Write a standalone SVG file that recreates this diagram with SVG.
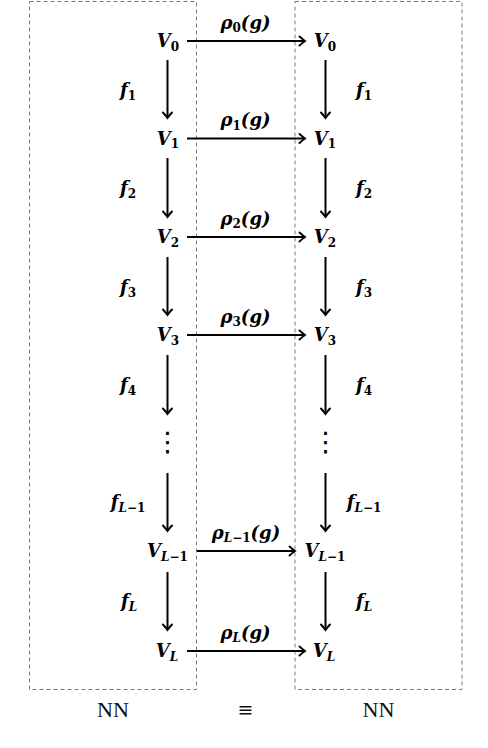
<svg xmlns="http://www.w3.org/2000/svg" width="488" height="748" viewBox="0 0 488 748">
<defs>
<style>
.box{fill:none;stroke:#7a7a7a;stroke-width:1;stroke-dasharray:4 3}
.arr{stroke:#000;stroke-width:2;fill:none;marker-end:url(#ah)}
.m{font-family:"DejaVu Serif","Liberation Serif",serif;font-weight:bold;font-style:italic;font-size:18px;fill:#000}
.v{text-anchor:middle}
.s{font-size:12px;font-style:normal}
.si{font-size:12px;font-style:italic}
.lbl{font-family:"Liberation Serif","Times New Roman",serif;font-size:21px;fill:#111;text-anchor:middle}
.eq{font-family:"DejaVu Sans",sans-serif;font-size:19px;fill:#111;text-anchor:middle}
.dots{font-family:"DejaVu Sans",sans-serif;font-size:27px;font-weight:normal;text-anchor:middle;fill:#000}
</style>
<marker id="ah" markerUnits="userSpaceOnUse" markerWidth="12" markerHeight="12" viewBox="-8 -6 10 12" refX="0" refY="0" orient="auto">
<path d="M-5.5,-4.5 Q-1.5,-1 0,0 Q-1.5,1 -5.5,4.5" fill="none" stroke="#000" stroke-width="1.9" stroke-linecap="round"/>
</marker>
</defs>

<g id="frames">
<rect class="box" x="29.5" y="1.5" width="167" height="688"/>
<rect class="box" x="295" y="1.5" width="167" height="688"/>
</g>

<g id="connectors">
<line class="arr" x1="187" y1="41" x2="305" y2="41"/>
<line class="arr" x1="187" y1="138.5" x2="305" y2="138.5"/>
<line class="arr" x1="187" y1="237" x2="305" y2="237"/>
<line class="arr" x1="187" y1="335" x2="305" y2="335"/>
<line class="arr" x1="197" y1="551" x2="295" y2="551"/>
<line class="arr" x1="187" y1="651" x2="305" y2="651"/>
<line class="arr" x1="167.5" y1="60" x2="167.5" y2="118"/>
<line class="arr" x1="167.5" y1="158" x2="167.5" y2="217"/>
<line class="arr" x1="167.5" y1="257" x2="167.5" y2="315"/>
<line class="arr" x1="167.5" y1="355" x2="167.5" y2="414"/>
<line class="arr" x1="167.5" y1="473" x2="167.5" y2="531"/>
<line class="arr" x1="167.5" y1="572" x2="167.5" y2="630"/>
<line class="arr" x1="325.5" y1="60" x2="325.5" y2="118"/>
<line class="arr" x1="325.5" y1="158" x2="325.5" y2="217"/>
<line class="arr" x1="325.5" y1="257" x2="325.5" y2="315"/>
<line class="arr" x1="325.5" y1="355" x2="325.5" y2="414"/>
<line class="arr" x1="325.5" y1="473" x2="325.5" y2="531"/>
<line class="arr" x1="325.5" y1="572" x2="325.5" y2="630"/>
</g>

<g id="edge-labels">
<text class="m v" x="245.5" y="28.5">ρ<tspan class="s" dy="3.5">0</tspan><tspan dy="-3.5">(g)</tspan></text>
<text class="m v" x="245.5" y="126">ρ<tspan class="s" dy="3.5">1</tspan><tspan dy="-3.5">(g)</tspan></text>
<text class="m v" x="245.5" y="224.5">ρ<tspan class="s" dy="3.5">2</tspan><tspan dy="-3.5">(g)</tspan></text>
<text class="m v" x="245.5" y="322.5">ρ<tspan class="s" dy="3.5">3</tspan><tspan dy="-3.5">(g)</tspan></text>
<text class="m v" x="246" y="538.5">ρ<tspan class="si" dy="3.5">L</tspan><tspan class="s">−1</tspan><tspan dy="-3.5">(g)</tspan></text>
<text class="m v" x="245.5" y="638.5">ρ<tspan class="si" dy="3.5">L</tspan><tspan dy="-3.5">(g)</tspan></text>

<text class="m v" x="128" y="96">f<tspan class="s" dy="3.5">1</tspan></text>
<text class="m v" x="128" y="194">f<tspan class="s" dy="3.5">2</tspan></text>
<text class="m v" x="128" y="293">f<tspan class="s" dy="3.5">3</tspan></text>
<text class="m v" x="128" y="391">f<tspan class="s" dy="3.5">4</tspan></text>
<text class="m v" x="128" y="508">f<tspan class="si" dy="3.5">L</tspan><tspan class="s">−1</tspan></text>
<text class="m v" x="129" y="607">f<tspan class="si" dy="3.5">L</tspan></text>

<text class="m v" x="364" y="96">f<tspan class="s" dy="3.5">1</tspan></text>
<text class="m v" x="364" y="194">f<tspan class="s" dy="3.5">2</tspan></text>
<text class="m v" x="364" y="293">f<tspan class="s" dy="3.5">3</tspan></text>
<text class="m v" x="364" y="391">f<tspan class="s" dy="3.5">4</tspan></text>
<text class="m v" x="364" y="508">f<tspan class="si" dy="3.5">L</tspan><tspan class="s">−1</tspan></text>
<text class="m v" x="364" y="607">f<tspan class="si" dy="3.5">L</tspan></text>
</g>

<g id="left-V0"><text class="m v" x="168" y="47">V<tspan class="s" dy="3.5">0</tspan></text></g>
<g id="left-V1"><text class="m v" x="168" y="144.5">V<tspan class="s" dy="3.5">1</tspan></text></g>
<g id="left-V2"><text class="m v" x="168" y="243">V<tspan class="s" dy="3.5">2</tspan></text></g>
<g id="left-V3"><text class="m v" x="168" y="341">V<tspan class="s" dy="3.5">3</tspan></text></g>
<g id="left-dots"><text class="dots" x="167.5" y="451">⋮</text></g>
<g id="left-VL1"><text class="m v" x="167.5" y="557">V<tspan class="si" dy="3.5">L</tspan><tspan class="s">−1</tspan></text></g>
<g id="left-VL"><text class="m v" x="167" y="657">V<tspan class="si" dy="3.5">L</tspan></text></g>

<g id="right-V0"><text class="m v" x="325" y="47">V<tspan class="s" dy="3.5">0</tspan></text></g>
<g id="right-V1"><text class="m v" x="325" y="144.5">V<tspan class="s" dy="3.5">1</tspan></text></g>
<g id="right-V2"><text class="m v" x="325" y="243">V<tspan class="s" dy="3.5">2</tspan></text></g>
<g id="right-V3"><text class="m v" x="325" y="341">V<tspan class="s" dy="3.5">3</tspan></text></g>
<g id="right-dots"><text class="dots" x="325.5" y="451">⋮</text></g>
<g id="right-VL1"><text class="m v" x="325" y="557">V<tspan class="si" dy="3.5">L</tspan><tspan class="s">−1</tspan></text></g>
<g id="right-VL"><text class="m v" x="324" y="657">V<tspan class="si" dy="3.5">L</tspan></text></g>

<g id="captions">
<text class="lbl" x="113" y="717" textLength="32" lengthAdjust="spacingAndGlyphs">NN</text>
<text class="eq" x="245.5" y="716">≡</text>
<text class="lbl" x="378.5" y="717" textLength="32" lengthAdjust="spacingAndGlyphs">NN</text>
</g>
</svg>
